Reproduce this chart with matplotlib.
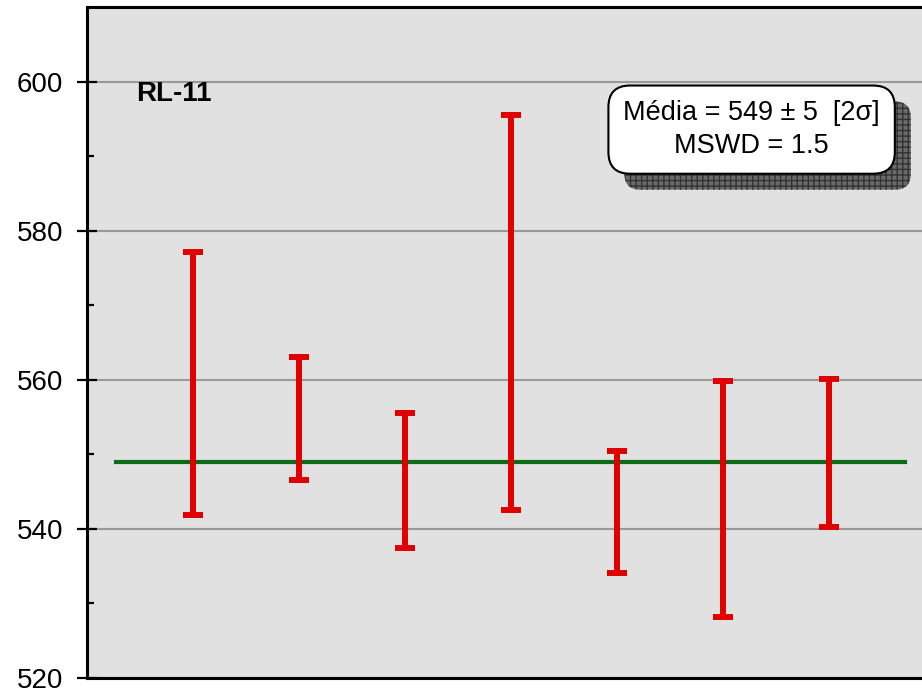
import matplotlib.pyplot as plt
import matplotlib.transforms as mtransforms
from matplotlib.patches import FancyBboxPatch

plt.rcParams['font.family'] = ['Liberation Sans', 'DejaVu Sans']

# Data
spots = [1, 2, 3, 4, 5, 6, 7]
ages = [559.5, 554.8, 546.5, 569.0, 542.2, 544.0, 550.2]
errs = [17.6, 8.2, 9.1, 26.5, 8.2, 15.8, 9.9]
mean_age = 549
mean_x = [0.27, 7.72]
sample = "RL-11"
info = "Média = 549 ± 5  [2σ]\nMSWD = 1.5"

fig = plt.figure(figsize=(9.22, 6.94), dpi=100)
ax = fig.add_axes([87 / 922, 0.0235, 848 / 922, 0.9657])
ax.set_facecolor('#e1e1e1')

ax.set_xlim(0, 8)
ax.set_ylim(520, 610)
ax.set_yticks([520, 540, 560, 580, 600])
ax.set_yticks([530, 550, 570, 590], minor=True)
ax.set_xticks([])
ax.yaxis.grid(True, color='#999999', linewidth=1.5)
ax.set_axisbelow(True)
ax.tick_params(axis='y', which='major', direction='inout', length=14, width=1.6,
               labelsize=20, pad=10)
ax.tick_params(axis='y', which='minor', direction='in', length=5, width=1.6)
for s in ax.spines.values():
    s.set_linewidth(2.2)
ax.spines['right'].set_visible(False)

# mean line
ax.plot(mean_x, [mean_age, mean_age], color='#0b6b17', linewidth=3, zorder=2)

# error bars
ax.errorbar(spots, ages, yerr=errs, fmt='none', ecolor='#e00000',
            elinewidth=4.3, capsize=7, capthick=4.3, zorder=3)

ax.text(0.46, 598.4, sample, fontsize=20, fontweight='bold', ha='left', va='center')

# info box with shadow
t = ax.text(6.27, 593.6, info, fontsize=19.5, ha='center', va='center',
            linespacing=1.32, zorder=5,
            bbox=dict(boxstyle='round,pad=0.55,rounding_size=0.8', facecolor='white',
                      edgecolor='black', linewidth=1.5))
fig.canvas.draw()
bb = t.get_bbox_patch().get_window_extent()
shadow = FancyBboxPatch((bb.x0 + 16, bb.y0 - 16), bb.width, bb.height,
                        boxstyle='round,pad=0,rounding_size=16',
                        facecolor='#6a6a6a', edgecolor='#333333', hatch='+++',
                        linewidth=0, transform=mtransforms.IdentityTransform(),
                        zorder=4)
ax.add_artist(shadow)

fig.savefig('out.png', dpi=100)
